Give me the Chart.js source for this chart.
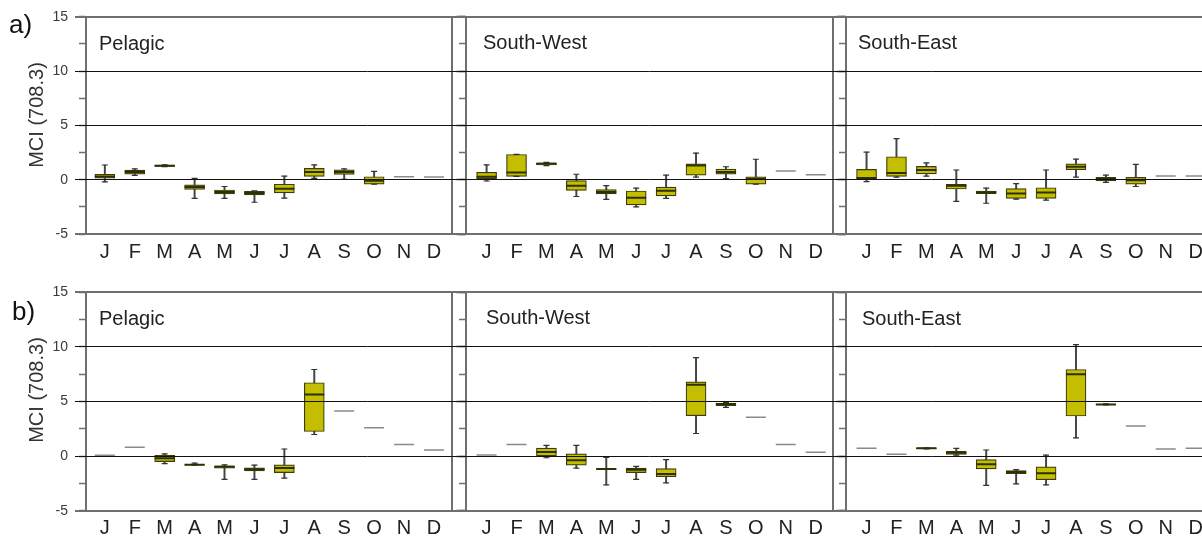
<!DOCTYPE html>
<html>
<head>
<meta charset="utf-8">
<script src="https://cdn.jsdelivr.net/npm/chart.js"></script>
<style>
    body { margin: 0; background: #fff; overflow: hidden; }
    #page { position: relative; width: 1240px; height: 541px; font-family: "Liberation Sans", Arial, sans-serif; color: #222; }
    canvas { position: absolute; left: 0; }
    .lbl { position: absolute; line-height: 1; white-space: nowrap; }
    .tag { font-size: 26px; color: #111; }
    .panel { font-size: 20px; color: #222; }
    .ytitle { font-size: 20px; color: #333; transform: translate(-50%, -50%) rotate(-90deg); }
</style>
</head>
<body>
<div id="page">
    <canvas id="rowA" width="1240" height="272" style="top:0"></canvas>
    <canvas id="rowB" width="1240" height="272" style="top:276px"></canvas>

    <div class="lbl tag" style="left:9px; top:11px">a)</div>
    <div class="lbl tag" style="left:12px; top:298px">b)</div>

    <div class="lbl ytitle" style="left:36px; top:115px">MCI (708.3)</div>
    <div class="lbl ytitle" style="left:36px; top:390px">MCI (708.3)</div>

    <div class="lbl panel" style="left:99px; top:33px">Pelagic</div>
    <div class="lbl panel" style="left:483px; top:32px">South-West</div>
    <div class="lbl panel" style="left:858px; top:32px">South-East</div>
    <div class="lbl panel" style="left:99px; top:308px">Pelagic</div>
    <div class="lbl panel" style="left:486px; top:307px">South-West</div>
    <div class="lbl panel" style="left:862px; top:308px">South-East</div>
</div>
<script>
const MONTHS = ['J', 'F', 'M', 'A', 'M', 'J', 'J', 'A', 'S', 'O', 'N', 'D'];

// per month: [min, q1, median, q3, max]; a plain number is a single value
const aPelagic = [
    [-0.2, 0.15, 0.3, 0.5, 1.35],
    [0.4, 0.5, 0.7, 0.88, 1.0],
    [1.2, 1.22, 1.28, 1.34, 1.36],
    [-1.73, -0.9, -0.68, -0.48, 0.12],
    [-1.73, -1.3, -1.13, -0.95, -0.63],
    [-2.08, -1.4, -1.22, -1.07, -1.04],
    [-1.7, -1.22, -0.83, -0.42, 0.33],
    [0.12, 0.3, 0.71, 1.04, 1.37],
    [0.03, 0.48, 0.71, 0.9, 1.0],
    [-0.42, -0.42, -0.09, 0.27, 0.77],
    0.27,
    0.24
];
const aSouthWest = [
    [-0.12, 0.09, 0.27, 0.68, 1.37],
    [0.3, 0.3, 0.65, 2.32, 2.32],
    [1.3, 1.36, 1.46, 1.55, 1.6],
    [-1.55, -0.98, -0.57, -0.09, 0.5],
    [-1.82, -1.3, -1.13, -0.92, -0.54],
    [-2.5, -2.32, -1.67, -1.04, -0.77],
    [-1.73, -1.49, -1.01, -0.68, 0.42],
    [0.24, 0.42, 1.31, 1.46, 2.44],
    [0.09, 0.5, 0.71, 0.98, 1.19],
    [-0.42, -0.42, 0.09, 0.27, 1.88],
    0.8,
    0.45
];
const aSouthEast = [
    [-0.18, 0.03, 0.15, 0.95, 2.53],
    [0.24, 0.3, 0.62, 2.11, 3.78],
    [0.33, 0.54, 0.89, 1.22, 1.55],
    [-1.99, -0.86, -0.57, -0.42, 0.89],
    [-2.17, -1.28, -1.16, -1.04, -0.77],
    [-1.79, -1.73, -1.28, -0.83, -0.36],
    [-1.88, -1.73, -1.19, -0.74, 0.89],
    [0.24, 0.92, 1.19, 1.46, 1.9],
    [-0.24, -0.12, 0.06, 0.21, 0.42],
    [-0.63, -0.42, -0.06, 0.21, 1.4],
    0.33,
    0.33
];
const bPelagic = [
    0.08,
    0.8,
    [-0.68, -0.5, -0.2, 0.06, 0.2],
    [-0.82, -0.82, -0.8, -0.78, -0.65],
    [-2.13, -1.1, -0.98, -0.89, -0.8],
    [-2.13, -1.36, -1.21, -1.07, -0.83],
    [-2.01, -1.51, -1.1, -0.8, 0.65],
    [1.98, 2.25, 5.65, 6.72, 7.93],
    4.14,
    2.6,
    1.07,
    0.56
];
const bSouthWest = [
    0.09,
    1.07,
    [-0.15, 0.03, 0.38, 0.74, 0.98],
    [-1.1, -0.83, -0.38, 0.21, 0.98],
    [-2.63, -1.22, -1.18, -1.15, -0.12],
    [-2.13, -1.51, -1.24, -1.1, -0.95],
    [-2.46, -1.89, -1.63, -1.15, -0.33],
    [2.07, 3.7, 6.54, 6.8, 9.02],
    [4.47, 4.62, 4.76, 4.85, 4.9],
    3.55,
    1.07,
    0.36
];
const bSouthEast = [
    0.71,
    0.18,
    [0.66, 0.67, 0.71, 0.75, 0.76],
    [0.09, 0.15, 0.3, 0.44, 0.71],
    [-2.69, -1.18, -0.74, -0.33, 0.56],
    [-2.54, -1.6, -1.45, -1.33, -1.24],
    [-2.63, -2.16, -1.57, -0.98, 0.09],
    [1.66, 3.67, 7.49, 7.93, 10.2],
    [4.68, 4.7, 4.73, 4.76, 4.78],
    2.75,
    0.65,
    0.71
];

// the three panels share one x scale, in month units
const X_MIN = -0.63, X_MAX = 37.04;
const PANEL_START = [0, 12.76, 25.46];
const PANEL_AXIS = [X_MIN, 12.07, 24.77];
const PANEL_RIGHT = [11.6, 24.34, 37.04];

const BOX_FILL = '#c4be00';
const BOX_LINE = '#3b3b0c';
const FRAME = '#6f6f6f';

Chart.defaults.font.family = '"Liberation Sans", Arial, sans-serif';

function boxDatasets(panels) {
    const boxes = [], whiskers = [], caps = [], medians = [];
    panels.forEach((stats, p) => {
        stats.forEach((s, i) => {
            const x = PANEL_START[p] + i;
            if (typeof s === 'number') {
                medians.push({x: x, y: s, single: true});
                return;
            }
            boxes.push({x: x, y: [s[1], s[3]]});
            whiskers.push({x: x, y: [s[0], s[4]]});
            caps.push({x: x, y: s[0]}, {x: x, y: s[4]});
            medians.push({x: x, y: s[2]});
        });
    });
    return [
        {
            type: 'scatter', data: medians, order: 0,
            pointStyle: 'line', pointRadius: 10, pointHoverRadius: 10,
            pointBorderWidth: ctx => (ctx.raw && ctx.raw.single) ? 1.5 : 2,
            pointBorderColor: ctx => (ctx.raw && ctx.raw.single) ? '#8a8a8a' : '#2f2f05'
        },
        {
            type: 'scatter', data: caps, order: 1,
            pointStyle: 'line', pointRadius: 3, pointHoverRadius: 3,
            pointBorderWidth: 1.2, pointBorderColor: '#333'
        },
        {
            type: 'bar', data: boxes, order: 2, grouped: false, barThickness: 20,
            backgroundColor: BOX_FILL, borderColor: BOX_LINE, borderWidth: 1.2, borderSkipped: false
        },
        {
            type: 'bar', data: whiskers, order: 3, grouped: false, barThickness: 1.3,
            backgroundColor: '#444', borderWidth: 0
        }
    ];
}

function tickAxis(pos, step, length, withBorder) {
    return {
        type: 'linear', axis: 'y', position: {x: pos}, min: -5, max: 15,
        ticks: {display: false, stepSize: step},
        grid: {drawOnChartArea: false, tickLength: length, tickColor: FRAME, tickWidth: 1.5},
        border: {display: withBorder, color: FRAME, width: 2}
    };
}

function edgeAxis(pos) {
    return {
        type: 'linear', axis: 'y', position: {x: pos}, min: -5, max: 15,
        ticks: {display: false},
        grid: {display: false},
        border: {display: true, color: FRAME, width: 2}
    };
}

function isFrame(ctx) {
    return ctx.tick && (ctx.tick.value === -5 || ctx.tick.value === 15);
}

function rowScales() {
    const scales = {
        x: {
            type: 'linear', min: X_MIN, max: X_MAX, offset: false,
            grid: {display: false, drawTicks: false},
            border: {display: false},
            afterBuildTicks: scale => {
                const ticks = [];
                PANEL_START.forEach(start => MONTHS.forEach((m, i) => ticks.push({value: start + i})));
                scale.ticks = ticks;
            },
            ticks: {
                autoSkip: false, maxRotation: 0, minRotation: 0, padding: 6,
                color: '#222', font: {size: 20},
                callback: (value, index) => MONTHS[index % 12]
            }
        },
        y: {
            type: 'linear', min: -5, max: 15,
            afterFit: scale => { scale.width = 86; },
            border: {display: false},
            grid: {
                z: 1, tickLength: 11,
                color: ctx => isFrame(ctx) ? FRAME : '#111',
                lineWidth: ctx => isFrame(ctx) ? 2 : 1
            },
            ticks: {stepSize: 5, padding: 7, color: '#3a3a3a', font: {size: 14}}
        }
    };
    PANEL_AXIS.forEach((pos, p) => {
        scales['minor' + p] = tickAxis(pos, 2.5, 6, true);
        if (p > 0) scales['major' + p] = tickAxis(pos, 5, 10, false);
        scales['edge' + p] = edgeAxis(PANEL_RIGHT[p]);
    });
    return scales;
}

function createRow(canvasId, panels, padding) {
    const ctx = document.getElementById(canvasId).getContext('2d');
    const datasets = boxDatasets(panels);
    datasets.forEach(d => { d.xAxisID = 'x'; d.yAxisID = 'y'; });

    const config = {
        type: 'bar',
        data: {datasets: datasets},
        options: {
            responsive: false,
            animation: false,
            events: [],
            layout: {padding: padding},
            scales: rowScales(),
            plugins: {
                legend: {display: false},
                tooltip: {enabled: false}
            }
        }
    };
    return new Chart(ctx, config);
}

createRow('rowA', [aPelagic, aSouthWest, aSouthEast], {top: 16.7, bottom: 2, left: 0, right: 27});
createRow('rowB', [bPelagic, bSouthWest, bSouthEast], {top: 16.3, bottom: 1.3, left: 0, right: 27});
</script>
</body>
</html>
